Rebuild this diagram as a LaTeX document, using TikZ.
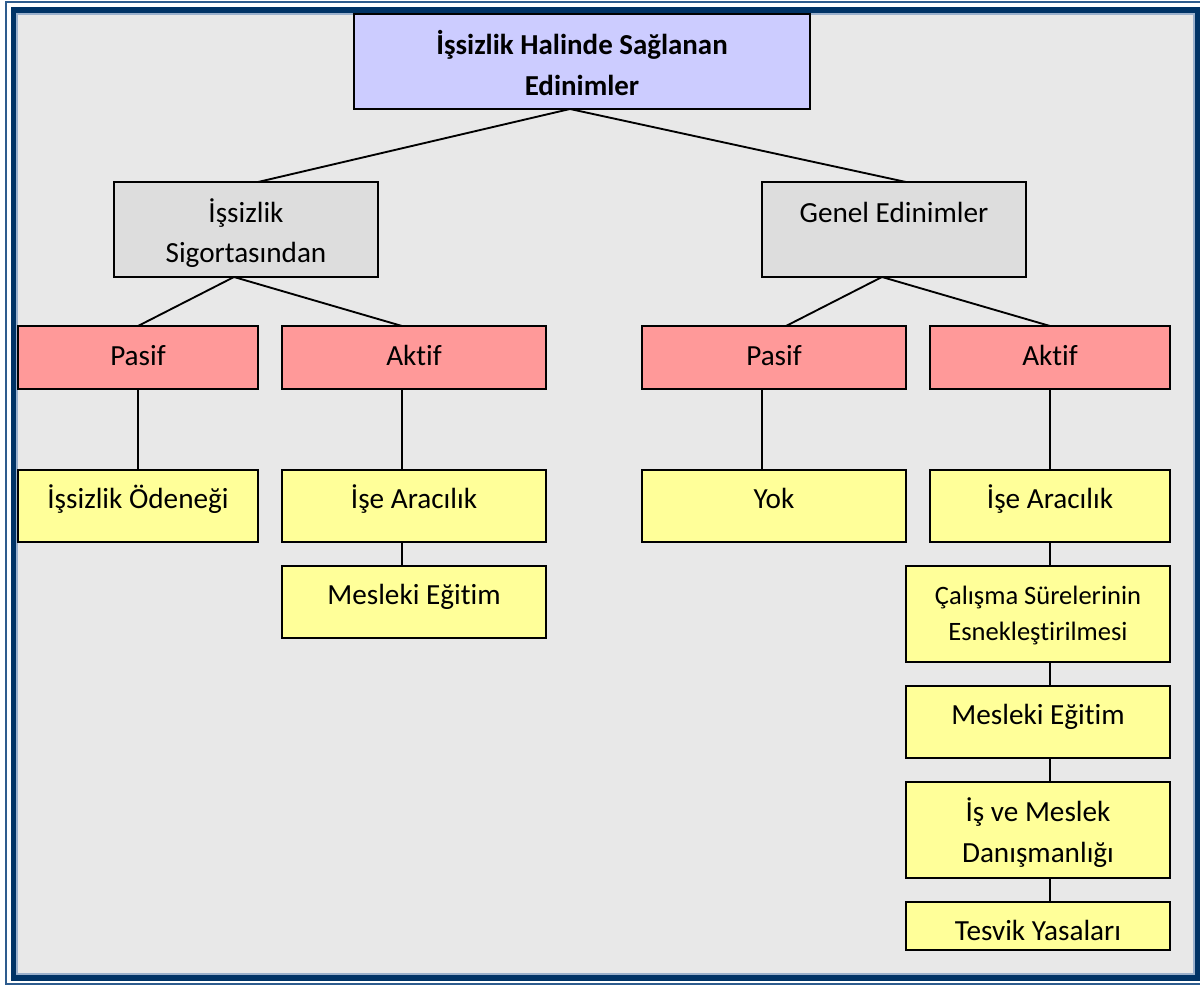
\documentclass[tikz,border=0pt]{standalone}
\usepackage{fontspec}
\setmainfont{Carlito}[Ligatures=NoCommon]
\definecolor{bgc}{HTML}{E8E8E8}
\definecolor{frameDark}{HTML}{003366}
\definecolor{frameThin}{HTML}{2E5C8E}
\definecolor{frameLight}{HTML}{9AB0CC}
\definecolor{cTop}{HTML}{CCCCFF}
\definecolor{cGray}{HTML}{DDDDDD}
\definecolor{cPink}{HTML}{FF9999}
\definecolor{cYel}{HTML}{FFFF99}
\tikzset{
  box/.style={draw=black, line width=1.4pt, inner sep=0pt, outer sep=0pt, anchor=north west},
  txt/.style={anchor=base, inner sep=0pt, font=\fontsize{21.9pt}{26pt}\selectfont},
  txtb/.style={txt, font=\fontsize{21.7pt}{26pt}\selectfont\bfseries},
  txts/.style={txt, font=\fontsize{19.9pt}{24pt}\selectfont},
  conn/.style={draw=black, line width=1.4pt},
}
\begin{document}
\begin{tikzpicture}[x=0.75pt, y=-0.75pt]
\useasboundingbox (0,0) rectangle (1200,985);
% frame
\draw[frameThin, line width=1.2pt] (6,2) rectangle (1212,984);
\fill[frameDark] (11,7) rectangle (1208,981);
\filldraw[fill=bgc, draw=frameLight, line width=0.8pt] (17,14) rectangle (1194,974);

% boxes
\node[box, fill=cTop, minimum width=456*0.75pt, minimum height=95*0.75pt] (top) at (354,14) {};
\node[box, fill=cGray, minimum width=264*0.75pt, minimum height=95*0.75pt] (sig) at (114,182) {};
\node[box, fill=cGray, minimum width=264*0.75pt, minimum height=95*0.75pt] (gen) at (762,182) {};
\node[box, fill=cPink, minimum width=240*0.75pt, minimum height=63*0.75pt] (pa1) at (18,326) {};
\node[box, fill=cPink, minimum width=264*0.75pt, minimum height=63*0.75pt] (ak1) at (282,326) {};
\node[box, fill=cPink, minimum width=264*0.75pt, minimum height=63*0.75pt] (pa2) at (642,326) {};
\node[box, fill=cPink, minimum width=240*0.75pt, minimum height=63*0.75pt] (ak2) at (930,326) {};
\node[box, fill=cYel, minimum width=240*0.75pt, minimum height=72*0.75pt] (ode) at (18,470) {};
\node[box, fill=cYel, minimum width=264*0.75pt, minimum height=72*0.75pt] (ara1) at (282,470) {};
\node[box, fill=cYel, minimum width=264*0.75pt, minimum height=72*0.75pt] (mes1) at (282,566) {};
\node[box, fill=cYel, minimum width=264*0.75pt, minimum height=72*0.75pt] (yok) at (642,470) {};
\node[box, fill=cYel, minimum width=240*0.75pt, minimum height=72*0.75pt] (ara2) at (930,470) {};
\node[box, fill=cYel, minimum width=264*0.75pt, minimum height=96*0.75pt] (cal) at (906,566) {};
\node[box, fill=cYel, minimum width=264*0.75pt, minimum height=72*0.75pt] (mes2) at (906,686) {};
\node[box, fill=cYel, minimum width=264*0.75pt, minimum height=96*0.75pt] (dan) at (906,782) {};
\node[box, fill=cYel, minimum width=264*0.75pt, minimum height=48*0.75pt] (tes) at (906,902) {};

% texts
\node[txtb] (tTop1) at (582,55) {İşsizlik Halinde Sağlanan};
\node[txtb] (tTop2) at (582,95) {Edinimler};
\node[txt] (tSig1) at (246,222) {İşsizlik};
\node[txt] (tSig2) at (246,262) {Sigortasından};
\node[txt] (tGen) at (894,222) {Genel Edinimler};
\node[txt] (tPa1) at (138,365) {Pasif};
\node[txt] (tAk1) at (414,365) {Aktif};
\node[txt] (tPa2) at (774,365) {Pasif};
\node[txt] (tAk2) at (1050,365) {Aktif};
\node[txt] (tOde) at (138,508) {İşsizlik Ödeneği};
\node[txt] (tAra1) at (414,508) {İşe Aracılık};
\node[txt] (tMes1) at (414,604) {Mesleki Eğitim};
\node[txt] (tYok) at (774,508) {Yok};
\node[txt] (tAra2) at (1050,508) {İşe Aracılık};
\node[txts] (tCal1) at (1038,604) {Çalışma Sürelerinin};
\node[txts] (tCal2) at (1038,640) {Esnekleştirilmesi};
\node[txt] (tMes2) at (1038,724) {Mesleki Eğitim};
\node[txt] (tDan1) at (1038,821) {İş ve Meslek};
\node[txt] (tDan2) at (1038,862) {Danışmanlığı};
\node[txt] (tTes) at (1038,940) {Tesvik Yasaları};

% connectors
\draw[conn] ([xshift=-9pt]top.south) -- ([xshift=9pt]sig.north);
\draw[conn] ([xshift=-9pt]top.south) -- ([xshift=9pt]gen.north);
\draw[conn] ([xshift=-9pt]sig.south) -- (pa1.north);
\draw[conn] ([xshift=-9pt]sig.south) -- ([xshift=-9pt]ak1.north);
\draw[conn] ([xshift=-9pt]gen.south) -- ([xshift=9pt]pa2.north);
\draw[conn] ([xshift=-9pt]gen.south) -- (ak2.north);
\draw[conn] (pa1.south) -- (ode.north);
\draw[conn] ([xshift=-9pt]ak1.south) -- ([xshift=-9pt]ara1.north);
\draw[conn] ([xshift=-9pt]ara1.south) -- ([xshift=-9pt]mes1.north);
\draw[conn] ([xshift=-9pt]pa2.south) -- ([xshift=-9pt]yok.north);
\draw[conn] (ak2.south) -- (ara2.north);
\draw[conn] (ara2.south) -- ([xshift=9pt]cal.north);
\draw[conn] ([xshift=9pt]cal.south) -- ([xshift=9pt]mes2.north);
\draw[conn] ([xshift=9pt]mes2.south) -- ([xshift=9pt]dan.north);
\draw[conn] ([xshift=9pt]dan.south) -- ([xshift=9pt]tes.north);
\end{tikzpicture}
\end{document}
